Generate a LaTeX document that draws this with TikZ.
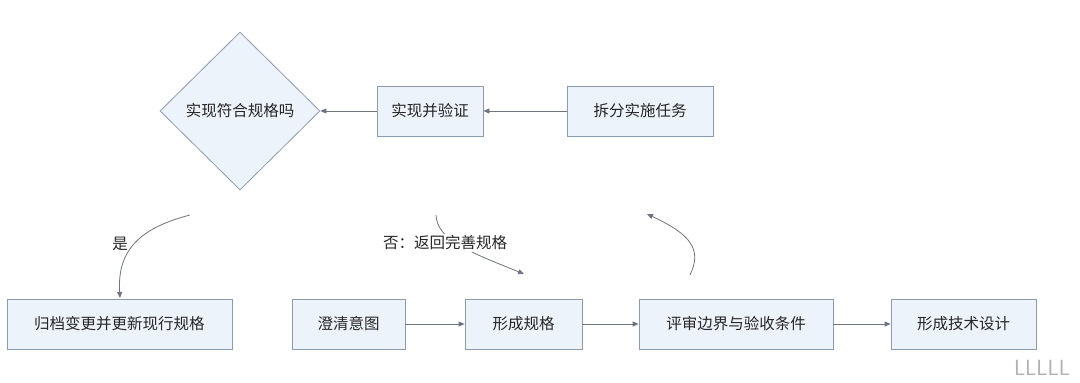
\documentclass[tikz,border=0pt]{standalone}
\usepackage{fontspec}
\setmainfont{Noto Sans CJK SC}
\usetikzlibrary{shapes.geometric,arrows.meta}
\definecolor{boxfill}{HTML}{EDF3FB}
\definecolor{boxline}{HTML}{8C9BB0}
\definecolor{arr}{HTML}{6E7480}
\tikzset{
  flowbox/.style={draw=boxline,fill=boxfill,line width=0.8pt,minimum height=50pt,inner sep=0pt,font=\fontsize{15.5}{17}\selectfont,text=black!85},
  decide/.style={diamond,draw=boxline,fill=boxfill,line width=0.8pt,minimum width=160pt,minimum height=158pt,inner sep=0pt,font=\fontsize{15.5}{17}\selectfont,text=black!85},
  flow/.style={draw=arr,line width=0.8pt,-{Triangle[length=6pt,width=5pt]}},
  lbl/.style={font=\fontsize{15.5}{17}\selectfont,text=black!85}
}
\begin{document}
\begin{tikzpicture}[x=1pt,y=-1pt]
\useasboundingbox[fill=white] (0,0) rectangle (1080,383);
% top row
\node[decide] (d) at (240,111) {实现符合规格吗};
\node[flowbox,minimum width=106pt] (impl) at (430,111) {实现并验证};
\node[flowbox,minimum width=146pt] (split) at (640,111) {拆分实施任务};
% bottom row
\node[flowbox,minimum width=225pt] (arch) at (119.5,324) {归档变更并更新现行规格};
\node[flowbox,minimum width=113pt] (clar) at (348.5,324) {澄清意图};
\node[flowbox,minimum width=117pt] (spec) at (523.5,324) {形成规格};
\node[flowbox,minimum width=194pt] (rev) at (736,324) {评审边界与验收条件};
\node[flowbox,minimum width=145pt] (tech) at (963.5,324) {形成技术设计};
% straight connectors
\draw[flow] (split) -- (impl);
\draw[flow] (impl) -- (d);
\draw[flow] (clar) -- (spec);
\draw[flow] (spec) -- (rev);
\draw[flow] (rev) -- (tech);
% curved free connectors
\coordinate (y0) at (190,215);
\coordinate (y1) at (120,298);
\draw[flow] (y0) .. controls (140,228) and (117,250) .. (y1);
\node[lbl] (yes) at (120,244) {是};
\coordinate (n0) at (436,215);
\coordinate (n1) at (524,274);
\draw[flow] (n0) .. controls (437,240) and (470,252) .. (n1);
\node[lbl,fill=white,inner sep=2pt] (no) at (445,243) {否：返回完善规格};
\coordinate (r0) at (690,275);
\coordinate (r1) at (647,214);
\draw[flow] (r0) .. controls (702,250) and (692,235) .. (r1);
\node[text=black!30,font=\fontsize{22}{22}\selectfont\sffamily] (wm) at (1042,368) {LLLLL};
\end{tikzpicture}
\end{document}
